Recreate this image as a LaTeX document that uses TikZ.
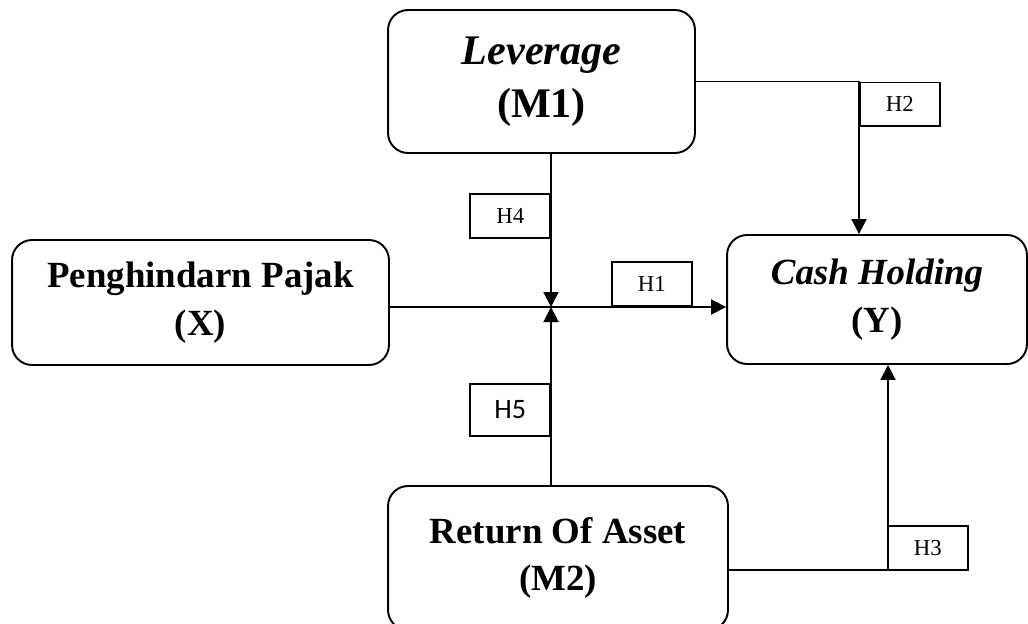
\documentclass[tikz,border=0pt]{standalone}
\usepackage{fontspec}
\setmainfont{Liberation Serif}
\newfontfamily\calfont{Carlito}
\usetikzlibrary{arrows.meta}
\begin{document}
\begin{tikzpicture}[x=0.02cm,y=-0.02cm,
    var/.style={draw,line width=1.1pt,rounded corners=0.4cm,align=center,
      inner sep=0pt,font=\fontsize{21}{27}\selectfont\bfseries},
    hyp/.style={draw,line width=0.9pt,minimum width=1.6cm,minimum height=0.88cm,
      inner sep=0pt,font=\fontsize{13}{15}\selectfont},
    link/.style={line width=1.1pt},
    arr/.style={link,-{Triangle[length=0.3cm,width=0.3cm]}}]
      \useasboundingbox (0,0) rectangle (1028,623);

      \node[var,minimum width=6.14cm,minimum height=2.86cm,font=\fontsize{24}{30}\selectfont\bfseries] (lev) at (541.5,81.5) {\textit{Leverage}\\(M1)};
      \node[var,minimum width=7.54cm,minimum height=2.5cm] (tax) at (200.5,302.5) {Penghindarn Pajak\\(X)};
      \node[var,minimum width=6.0cm,minimum height=2.58cm] (cash) at (877,299.5) {\textit{Cash Holding}\\(Y)};
      \node[var,minimum width=6.8cm,minimum height=2.88cm] (roa) at (558,558) {Return Of Asset\\(M2)};

      \coordinate (mid) at (551,307);

      \draw[arr] (tax.east |- mid) -- (cash.west |- mid);
      \draw[arr] (mid |- lev.south) -- (mid);
      \draw[arr] (mid |- roa.north) -- (mid);
      \draw[arr] (lev.east) -| ([xshift=-0.36cm]cash.north);
      \draw[arr] ([yshift=-0.24cm]roa.east) -| ([xshift=0.22cm]cash.south);

      \node[hyp,anchor=south west] (h1) at (611,307) {H1};
      \node[hyp,anchor=north west] (h2) at (859,81.5) {H2};
      \node[hyp,anchor=north west] (h3) at (887,525) {H3};
      \node[hyp,anchor=north east] (h4) at (551,193) {H4};
      \node[hyp,anchor=north east,minimum height=1.04cm,font=\calfont\fontsize{16}{18}\selectfont] (h5) at (551,383) {H5};
\end{tikzpicture}
\end{document}
